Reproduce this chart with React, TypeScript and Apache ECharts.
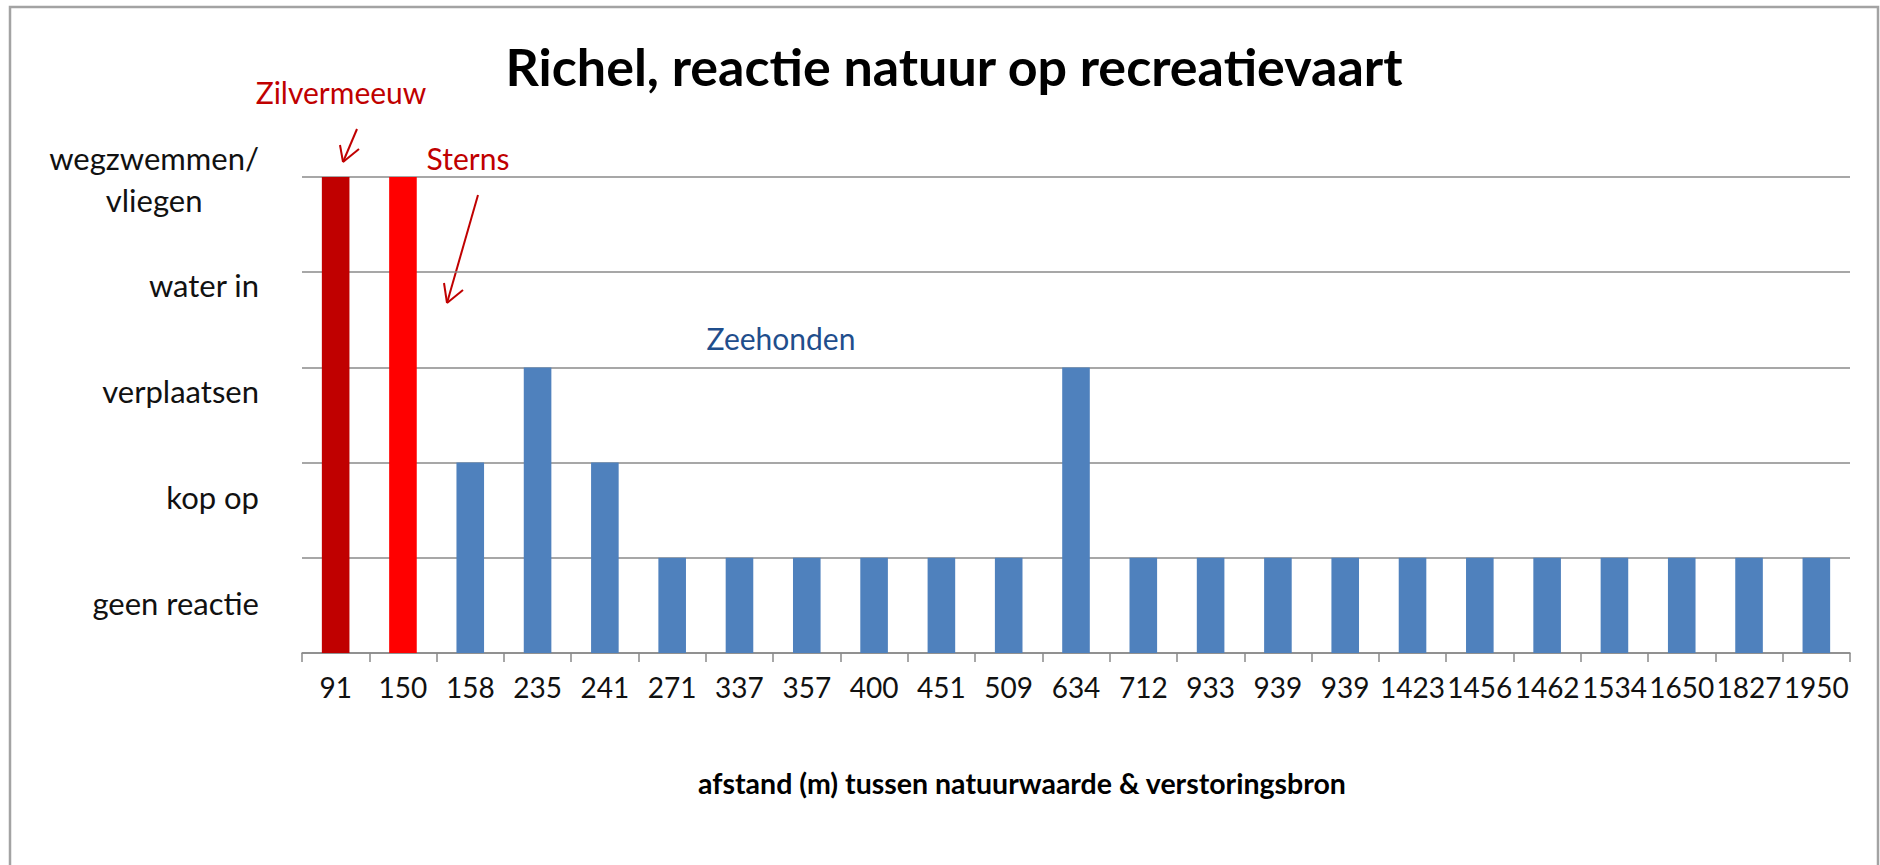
import React, { useEffect, useRef } from "react";
import * as echarts from "echarts";

// ---- data ----
const distances = ["91", "150", "158", "235", "241", "271", "337", "357", "400", "451", "509", "634", "712", "933", "939", "939", "1423", "1456", "1462", "1534", "1650", "1827", "1950"];
const reactionLevels = [5, 5, 2, 3, 2, 1, 1, 1, 1, 1, 1, 3, 1, 1, 1, 1, 1, 1, 1, 1, 1, 1, 1];
const species = ["Zilvermeeuw", "Sterns", "Zeehonden", "Zeehonden", "Zeehonden", "Zeehonden", "Zeehonden", "Zeehonden", "Zeehonden", "Zeehonden", "Zeehonden", "Zeehonden", "Zeehonden", "Zeehonden", "Zeehonden", "Zeehonden", "Zeehonden", "Zeehonden", "Zeehonden", "Zeehonden", "Zeehonden", "Zeehonden", "Zeehonden"];
const reactionLabels = ["geen reactie", "kop op", "verplaatsen", "water in", "wegzwemmen/\nvliegen"];
const titleText = "Richel, reactie natuur op recreatievaart";
const xAxisTitle = "afstand (m) tussen natuurwaarde & verstoringsbron";

const speciesColors: Record<string, string> = {
  Zilvermeeuw: "#C00000",
  Sterns: "#FF0000",
  Zeehonden: "#4F81BD",
};
const annotationColors: Record<string, string> = {
  Zilvermeeuw: "#C00000",
  Sterns: "#C00000",
  Zeehonden: "#1F4E8C",
};

const FONT = "Lato, 'Open Sans', sans-serif";
const GRID_COLOR = "#8a8a8a";

export default function App() {
  const ref = useRef<HTMLDivElement>(null);

  useEffect(() => {
    if (!ref.current) return;
    const chart = echarts.init(ref.current, undefined, { renderer: "svg" });
    const red = annotationColors.Zilvermeeuw;

    const option: any = {
      animation: false,
      backgroundColor: "#ffffff",
      grid: [
        { left: 302, right: 30, top: 177, bottom: 212, containLabel: false },
        { left: 302, width: 10, top: 126, height: 530, containLabel: false },
      ],
      xAxis: [
        {
          type: "category",
          gridIndex: 0,
          data: distances,
          boundaryGap: true,
          axisLine: { show: true, lineStyle: { color: GRID_COLOR, width: 1.5 } },
          axisTick: { show: true, length: 9, lineStyle: { color: GRID_COLOR, width: 1.5 } },
          axisLabel: {
            interval: 0,
            hideOverlap: false,
            fontFamily: FONT,
            fontSize: 28,
            color: "#111",
            margin: 20,
          },
          splitLine: { show: false },
        },
        { type: "value", gridIndex: 1, show: false },
      ],
      yAxis: [
        {
          type: "value",
          gridIndex: 0,
          min: 0,
          max: 5,
          interval: 1,
          axisLine: { show: false },
          axisTick: { show: false },
          axisLabel: { show: false },
          splitLine: { show: true, lineStyle: { color: GRID_COLOR, width: 1.5 } },
        },
        {
          type: "category",
          gridIndex: 1,
          data: reactionLabels,
          axisLine: { show: false },
          axisTick: { show: false },
          splitLine: { show: false },
          axisLabel: {
            interval: 0,
            fontFamily: FONT,
            fontSize: 31,
            color: "#111",
            margin: 43,
            lineHeight: 42,
            formatter: (v: string) =>
              v.indexOf("\n") >= 0
                ? v
                    .split("\n")
                    .map((s) => "{c|" + s + "}")
                    .join("\n")
                : v,
            rich: {
              c: { align: "center", fontFamily: FONT, fontSize: 31, color: "#111", lineHeight: 42 },
            },
          },
        },
      ],
      series: [
        {
          type: "bar",
          xAxisIndex: 0,
          yAxisIndex: 0,
          barWidth: "41%",
          data: reactionLevels.map((v, i) => ({
            value: v,
            itemStyle: { color: speciesColors[species[i]] },
          })),
        },
      ],
      graphic: [
        {
          type: "rect",
          shape: { x: 10, y: 7, width: 1868, height: 900 },
          style: { fill: "none", stroke: "#a3a3a3", lineWidth: 2.5 },
          silent: true,
        },
        {
          type: "text",
          x: 954,
          y: 66,
          style: {
            text: titleText,
            font: "bold 52px " + FONT,
            fill: "#000",
            align: "center",
            verticalAlign: "middle",
          },
        },
        {
          type: "text",
          x: 1022,
          y: 783,
          style: {
            text: xAxisTitle,
            font: "bold 28.5px " + FONT,
            fill: "#000",
            align: "center",
            verticalAlign: "middle",
          },
        },
        {
          type: "text",
          x: 341,
          y: 92,
          style: { text: species[0], font: "30px " + FONT, fill: annotationColors[species[0]], align: "center", verticalAlign: "middle" },
        },
        {
          type: "text",
          x: 468,
          y: 158,
          style: { text: species[1], font: "30px " + FONT, fill: annotationColors[species[1]], align: "center", verticalAlign: "middle" },
        },
        {
          type: "text",
          x: 781,
          y: 338,
          style: { text: species[2], font: "30px " + FONT, fill: annotationColors[species[2]], align: "center", verticalAlign: "middle" },
        },
        // Zilvermeeuw arrow
        { type: "line", shape: { x1: 357, y1: 129, x2: 343, y2: 162 }, style: { stroke: red, lineWidth: 2 } },
        { type: "line", shape: { x1: 343, y1: 162, x2: 340, y2: 145 }, style: { stroke: red, lineWidth: 2 } },
        { type: "line", shape: { x1: 343, y1: 162, x2: 359, y2: 149 }, style: { stroke: red, lineWidth: 2 } },
        // Sterns arrow
        { type: "line", shape: { x1: 478, y1: 195, x2: 447, y2: 303 }, style: { stroke: red, lineWidth: 2 } },
        { type: "line", shape: { x1: 447, y1: 303, x2: 444, y2: 283 }, style: { stroke: red, lineWidth: 2 } },
        { type: "line", shape: { x1: 447, y1: 303, x2: 463, y2: 290 }, style: { stroke: red, lineWidth: 2 } },
      ],
    };

    chart.setOption(option);
    return () => chart.dispose();
  }, []);

  return (
    <div
      ref={ref}
      style={{ position: "fixed", left: 0, top: 0, width: 1880, height: 865, background: "#fff" }}
    />
  );
}
